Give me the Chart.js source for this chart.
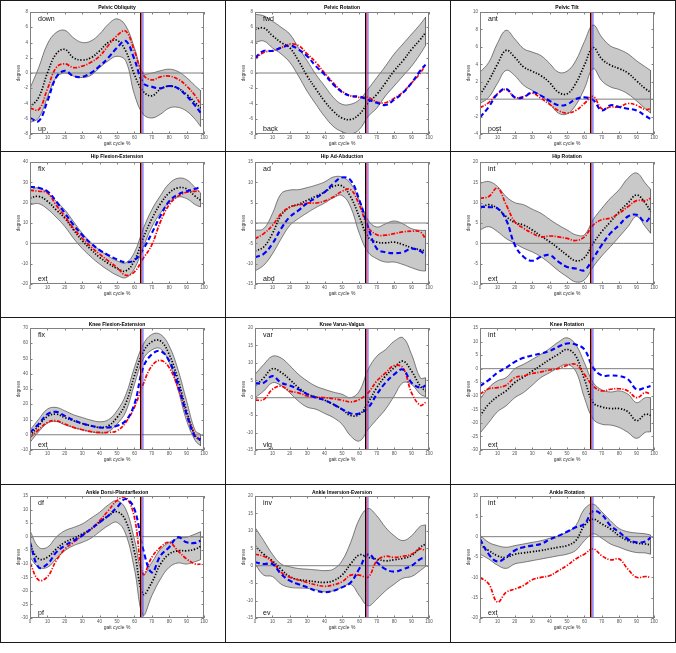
<!DOCTYPE html>
<html><head><meta charset="utf-8">
<script src="https://cdn.jsdelivr.net/npm/chart.js@4/dist/chart.umd.min.js"></script>
<style>
html,body{margin:0;padding:0;background:#fff;}
#wrap{position:relative;width:676px;height:653px;overflow:hidden;background:#fff;}
canvas{position:absolute;}
.bl{position:absolute;background:#1a1a1a;}
</style></head><body><div id="wrap"></div>
<script>
// ---------------- DATA ----------------
const gaitCycle = [0,5,10,15,20,25,30,35,40,45,50,55,60,65,70,75,80,85,90,95,98];
const eventLines = [63.5, 64.1, 64.9]; // black, red, blue foot-off markers

const panelTitles = ['Pelvic Obliquity','Pelvic Rotation','Pelvic Tilt','Hip Flexion-Extension','Hip Ad-Abduction','Hip Rotation','Knee Flexion-Extension','Knee Varus-Valgus','Knee Rotation','Ankle Dorsi-Plantarflexion','Ankle Inversion-Eversion','Ankle Rotation'];
const topLabels = ['down','fwd','ant','flx','ad','int','flx','var','int','df','inv','int'];
const bottomLabels = ['up','back','post','ext','abd','ext','ext','vlg','ext','pf','ev','ext'];
const yMin = [-8,-8,-4,-20,-15,-10,-10,-15,-30,-30,-15,-20];
const yMax = [8,8,10,40,15,20,70,20,15,15,20,10];
const yStep = [2,2,2,10,5,5,10,5,5,5,5,5];

const pelvicObliquityMean  = [-4.5,-3.2,0.0,2.5,3.1,2.0,1.7,2.0,2.9,4.0,4.3,2.9,-0.2,-2.4,-3.0,-2.1,-1.7,-2.0,-2.8,-3.9,-4.6];
const pelvicObliquityUpper = [-2.0,0.7,3.8,5.3,5.6,4.6,4.0,4.2,5.1,6.4,7.1,6.2,3.3,0.0,0.0,0.3,0.5,0.2,-0.6,-1.7,-2.3];
const pelvicObliquityLower = [-6.5,-5.9,-3.2,-0.6,0.0,-0.4,-0.6,-0.3,0.7,1.6,2.2,1.6,-2.8,-5.4,-5.9,-5.4,-4.6,-4.5,-5.0,-6.1,-7.0];
const pelvicObliquityRed   = [-4.6,-4.8,-2.1,0.7,1.2,0.7,0.9,1.4,2.2,3.6,4.9,5.5,2.9,-0.2,-0.9,-0.5,-0.4,-0.8,-1.7,-3.0,-4.1];
const pelvicObliquityBlue  = [-5.9,-6.3,-3.7,-0.6,0.3,-0.4,-0.5,0.0,0.9,2.0,3.3,4.2,1.8,-1.3,-1.8,-2.0,-1.7,-2.0,-3.0,-4.3,-5.2];

const pelvicRotationMean  = [5.7,5.9,4.9,4.0,3.3,1.6,-0.4,-2.1,-3.7,-5.0,-5.9,-6.1,-5.4,-3.9,-2.8,-1.3,0.3,1.6,3.1,4.4,5.3];
const pelvicRotationUpper = [7.7,7.5,6.8,6.0,5.1,3.3,1.6,-0.2,-1.7,-3.2,-4.1,-4.1,-3.5,-2.1,-0.6,0.9,2.5,3.8,5.1,6.4,7.3];
const pelvicRotationLower = [4.0,4.2,3.3,2.5,1.4,-0.4,-2.4,-4.1,-5.7,-7.0,-7.7,-8.0,-7.4,-5.7,-4.6,-3.0,-1.7,-0.4,0.9,2.5,3.6];
const pelvicRotationRed   = [1.8,2.7,2.9,3.3,3.8,3.6,2.5,1.4,0.0,-1.3,-2.4,-3.0,-3.2,-3.2,-3.8,-3.9,-3.3,-2.5,-1.3,0.0,1.1];
const pelvicRotationBlue  = [2.0,2.9,2.9,3.3,3.6,3.1,2.2,0.9,-0.2,-1.5,-2.5,-3.0,-3.1,-3.5,-3.9,-4.2,-3.5,-2.6,-1.3,0.3,1.1];

const pelvicTiltMean  = [0.5,2.1,4.0,5.6,4.8,3.7,3.2,2.7,1.9,0.8,0.6,1.8,3.9,5.9,4.6,3.9,3.5,3.0,2.1,1.2,0.8];
const pelvicTiltUpper = [3.1,4.2,6.4,7.9,6.9,5.8,5.4,5.0,4.1,3.1,3.2,4.4,6.6,8.5,7.1,6.1,5.7,5.2,4.4,3.7,3.3];
const pelvicTiltLower = [-0.5,0.2,1.8,3.3,2.7,1.6,1.0,0.4,-0.5,-1.6,-1.7,-0.7,1.2,3.5,2.1,1.4,1.1,0.6,-0.2,-1.1,-1.6];
const pelvicTiltRed   = [-1.0,-0.4,0.6,1.1,0.2,0.3,0.7,0.1,-0.6,-1.3,-1.6,-1.3,-0.5,0.3,-1.1,-0.9,-0.9,-0.5,-0.7,-1.2,-1.1];
const pelvicTiltBlue  = [-2.1,-0.9,0.6,1.2,0.2,0.2,0.8,0.4,-0.2,-0.7,-0.6,0.0,0.2,-0.1,-1.3,-0.7,-0.9,-1.1,-1.3,-1.9,-2.3];

const hipFlexMean  = [22.3,23.1,20.7,16.5,12.4,6.6,1.3,-3.0,-6.9,-9.9,-12.4,-13.6,-8.5,2.5,12.0,19.5,24.8,27.3,26.8,23.1,21.2];
const hipFlexUpper = [26.4,27.3,24.8,20.7,16.5,10.7,5.0,0.3,-3.3,-6.3,-8.6,-9.6,-4.5,7.0,16.5,23.5,29.4,32.0,31.3,27.3,24.8];
const hipFlexLower = [19.0,19.5,16.9,12.9,8.3,2.5,-2.5,-6.6,-10.2,-13.2,-15.7,-16.9,-12.5,-2.0,8.0,15.0,20.2,22.8,22.0,19.0,17.9];
const hipFlexRed   = [26.1,25.6,24.8,18.8,13.2,7.4,2.5,-1.7,-5.3,-8.6,-11.9,-15.7,-14.0,-7.5,-0.8,10.7,19.0,23.1,25.1,25.6,25.6];
const hipFlexBlue  = [27.8,27.3,25.6,20.7,14.9,9.1,4.1,0.0,-3.3,-5.8,-7.9,-9.3,-8.3,-3.0,5.0,13.6,20.7,24.0,25.6,26.8,27.8];

const hipAbdMean  = [-6.9,-5.9,-2.6,1.9,3.9,4.6,5.6,6.6,7.6,9.0,9.1,6.4,1.5,-3.5,-4.7,-4.9,-4.7,-5.3,-6.1,-6.6,-6.9];
const hipAbdUpper = [-1.8,-1.4,2.3,7.2,8.1,8.2,8.7,9.3,10.1,11.3,11.3,9.7,5.6,0.7,-1.0,-0.2,0.5,-0.2,-1.4,-1.8,-1.8];
const hipAbdLower = [-11.8,-10.4,-7.6,-3.9,-0.6,1.1,2.5,3.8,4.9,6.2,6.8,3.9,-2.6,-7.2,-8.8,-9.6,-9.6,-10.2,-11.0,-11.7,-11.8];
const hipAbdRed   = [-3.9,-2.6,-0.6,2.3,3.9,4.4,4.9,4.9,5.4,6.4,7.8,8.2,4.4,-1.0,-2.9,-3.0,-2.6,-2.2,-2.0,-2.2,-3.9];
const hipAbdBlue  = [-8.4,-7.6,-5.1,-1.4,1.5,3.1,4.9,6.2,7.6,9.7,11.2,10.5,5.6,-1.0,-6.3,-7.2,-7.4,-7.2,-6.3,-6.9,-8.0];

const hipRotMean  = [8.6,9.5,8.6,6.6,5.1,4.5,3.3,1.8,0.4,-1.2,-2.9,-4.3,-3.5,0.0,2.9,5.3,7.8,9.9,11.9,9.9,7.8];
const hipRotUpper = [14.8,15.2,14.0,11.5,10.0,9.5,8.4,7.4,5.9,4.5,3.3,2.1,2.1,5.8,8.6,11.1,13.2,16.0,17.3,14.8,13.3];
const hipRotLower = [3.3,4.1,2.9,1.2,0.0,-1.2,-2.1,-3.3,-4.9,-6.7,-8.2,-9.5,-9.0,-5.8,-3.1,-0.8,1.6,4.1,6.6,4.1,2.5];
const hipRotRed   = [11.1,11.5,13.6,9.5,5.3,3.7,2.5,1.6,1.8,1.6,1.2,0.7,1.6,4.5,5.8,6.2,7.4,9.0,10.5,10.5,11.1];
const hipRotBlue  = [9.0,8.9,8.6,5.8,-0.4,-3.3,-4.3,-3.3,-2.9,-4.5,-5.8,-6.2,-6.6,-3.7,-0.4,2.5,4.5,6.6,7.0,5.3,6.6];

const kneeFlexMean  = [-0.7,5.9,12.0,13.5,11.3,9.2,7.4,5.9,4.8,5.9,11.3,20.5,38.6,54.2,61.0,61.5,52.7,36.4,15.7,-0.7,-3.9];
const kneeFlexUpper = [3.0,10.2,16.8,17.9,15.7,13.1,11.3,9.6,8.5,9.8,15.7,26.0,44.0,59.0,65.8,65.8,58.2,42.9,22.2,2.6,0.4];
const kneeFlexLower = [-5.0,2.0,7.6,8.7,6.5,4.8,3.3,2.0,1.1,2.0,7.0,15.0,33.0,49.5,55.6,56.4,47.3,29.8,9.2,-3.9,-7.2];
const kneeFlexRed   = [-1.7,3.3,8.1,9.2,7.0,4.8,3.3,2.0,1.5,1.5,2.6,8.0,18.0,33.0,45.1,48.8,44.0,30.9,13.5,-0.7,-2.8];
const kneeFlexBlue  = [1.5,7.0,13.5,15.0,12.4,9.6,7.4,5.9,4.8,4.8,5.9,9.2,20.0,44.0,52.7,54.9,48.4,33.1,13.5,-1.7,-2.8];

const kneeVarMean  = [3.3,5.7,8.3,7.3,5.2,2.9,1.1,0.2,-0.7,-1.9,-3.3,-5.1,-4.8,-1.4,2.9,6.2,8.6,10.5,7.6,3.3,1.9];
const kneeVarUpper = [6.7,9.5,11.9,11.4,9.2,6.7,4.8,3.3,2.4,1.6,1.0,0.0,1.9,8.1,11.9,13.8,16.2,17.2,12.4,5.7,5.7];
const kneeVarLower = [0.0,1.9,4.3,3.5,1.4,-1.0,-2.7,-3.3,-4.5,-5.7,-7.6,-11.0,-12.4,-9.1,-6.2,-3.3,0.5,4.3,3.8,1.0,0.3];
const kneeVarRed   = [-0.7,-0.5,2.4,3.3,1.9,1.4,0.5,0.2,0.0,-0.3,-0.7,-1.2,-0.5,1.4,4.8,7.1,9.2,8.6,1.4,-2.2,-1.4];
const kneeVarBlue  = [4.1,4.3,6.2,4.3,3.5,2.4,1.0,0.0,-0.7,-1.9,-3.3,-4.5,-4.5,-2.9,1.0,4.3,6.7,8.1,4.3,2.9,3.5];

const kneeRotMean  = [-17.4,-13.1,-10.3,-8.2,-5.1,-3.1,-0.9,1.2,3.4,5.3,7.1,4.7,-3.9,-12.5,-14.1,-14.7,-14.7,-15.9,-19.2,-16.8,-17.2];
const kneeRotUpper = [-11.3,-7.0,-4.5,-3.3,0.0,1.6,3.4,5.3,7.4,9.8,11.4,8.9,2.2,-5.1,-7.8,-8.6,-8.2,-9.4,-12.5,-10.7,-10.7];
const kneeRotLower = [-23.8,-19.9,-15.9,-13.7,-10.7,-8.8,-6.1,-3.3,-1.5,0.4,1.6,-0.9,-10.7,-18.6,-20.5,-20.8,-21.7,-23.5,-25.7,-23.5,-23.3];
const kneeRotRed   = [-9.4,-7.4,-7.0,-6.1,-3.3,-2.7,-1.8,-1.2,-0.5,0.0,1.2,1.6,-2.1,-6.4,-8.2,-7.6,-7.4,-8.2,-10.7,-8.8,-9.4];
const kneeRotBlue  = [-6.4,-4.2,-1.5,0.4,2.5,4.0,4.9,5.6,6.5,8.1,9.3,8.9,7.1,0.4,-2.5,-2.5,-2.7,-3.9,-7.6,-7.0,-6.4];

const ankleDfMean  = [-3.3,-8.2,-7.6,-4.6,-2.1,-0.6,1.0,2.8,5.3,7.7,9.2,5.9,-5.5,-21.2,-16.9,-10.1,-6.4,-5.2,-5.2,-4.6,-3.6];
const ankleDfUpper = [2.2,-3.9,-3.9,-0.2,2.2,3.4,4.7,6.8,9.0,11.7,13.3,10.2,-0.9,-13.8,-9.5,-4.6,-2.1,-0.6,-0.2,1.0,1.8];
const ankleDfLower = [-7.6,-11.3,-11.3,-8.2,-5.2,-3.3,-2.1,-0.6,1.8,4.1,5.3,1.0,-11.9,-29.0,-21.8,-15.6,-11.3,-9.7,-10.1,-9.2,-8.5];
const ankleDfRed   = [-9.7,-16.0,-14.8,-8.9,-4.6,-2.1,0.4,2.8,5.9,9.6,13.3,14.5,7.1,-13.8,-7.6,-3.9,-2.1,-5.2,-8.2,-10.1,-10.1];
const ankleDfBlue  = [-2.1,-11.3,-10.1,-5.8,-3.3,-1.5,0.4,2.8,5.3,7.7,10.8,13.9,10.2,-4.6,-13.2,-7.0,-3.9,-0.2,-2.1,-2.3,-1.5];

const ankleInvMean  = [5.7,3.3,1.4,-1.0,-3.1,-4.0,-4.3,-4.6,-4.8,-4.3,-2.7,0.5,3.1,2.4,1.9,1.4,1.7,2.1,2.9,5.3,6.2];
const ankleInvUpper = [11.0,7.2,3.3,0.5,-0.3,-0.8,-1.0,-1.2,-1.4,-1.0,1.4,6.7,13.4,16.4,14.3,11.0,8.6,7.2,8.6,11.3,11.7];
const ankleInvLower = [0.5,-2.7,-3.1,-5.3,-6.2,-6.4,-6.5,-6.9,-7.5,-7.2,-6.2,-5.3,-8.6,-11.5,-9.6,-7.2,-5.3,-3.6,-3.1,-1.4,-0.2];
const ankleInvRed   = [3.3,2.7,1.1,-1.9,-3.3,-4.1,-4.8,-5.5,-5.9,-5.5,-4.6,-2.7,-2.7,-3.3,1.4,2.7,2.4,2.7,3.3,4.8,4.3];
const ankleInvBlue  = [1.0,0.5,0.5,-2.4,-4.3,-5.3,-6.2,-7.2,-7.6,-7.2,-6.2,-4.8,-0.8,3.3,1.0,-1.0,-1.7,-1.0,0.0,1.9,2.4];

const ankleRotMean  = [-2.0,-3.4,-4.7,-5.1,-4.3,-4.0,-3.7,-3.4,-3.0,-2.6,-2.2,-1.0,2.7,4.3,3.1,1.9,0.2,-1.0,-1.6,-1.8,-2.0];
const ankleRotUpper = [0.4,-1.4,-2.2,-2.6,-2.2,-1.8,-1.4,-1.0,-0.4,0.2,1.1,2.7,6.8,8.0,6.1,3.9,2.0,1.2,0.9,0.7,0.4];
const ankleRotLower = [-4.3,-5.5,-7.0,-7.8,-6.7,-6.3,-5.9,-5.5,-5.1,-4.7,-4.3,-3.4,-1.0,0.7,-0.4,-1.8,-2.6,-3.4,-3.9,-4.0,-4.3];
const ankleRotRed   = [-10.0,-11.6,-16.1,-13.7,-12.9,-12.0,-10.6,-10.0,-9.6,-8.4,-7.1,-5.5,-4.3,-3.0,-4.7,-5.7,-5.5,-8.0,-10.0,-9.8,-10.0];
const ankleRotBlue  = [-0.6,-4.3,-6.1,-5.1,-3.4,-2.6,-2.2,-1.8,-0.7,0.2,1.2,2.3,3.1,6.3,5.4,2.7,1.1,-0.6,-1.4,-1.2,-0.2];

const panelSeries = [
  [pelvicObliquityMean,pelvicObliquityUpper,pelvicObliquityLower,pelvicObliquityRed,pelvicObliquityBlue],
  [pelvicRotationMean,pelvicRotationUpper,pelvicRotationLower,pelvicRotationRed,pelvicRotationBlue],
  [pelvicTiltMean,pelvicTiltUpper,pelvicTiltLower,pelvicTiltRed,pelvicTiltBlue],
  [hipFlexMean,hipFlexUpper,hipFlexLower,hipFlexRed,hipFlexBlue],
  [hipAbdMean,hipAbdUpper,hipAbdLower,hipAbdRed,hipAbdBlue],
  [hipRotMean,hipRotUpper,hipRotLower,hipRotRed,hipRotBlue],
  [kneeFlexMean,kneeFlexUpper,kneeFlexLower,kneeFlexRed,kneeFlexBlue],
  [kneeVarMean,kneeVarUpper,kneeVarLower,kneeVarRed,kneeVarBlue],
  [kneeRotMean,kneeRotUpper,kneeRotLower,kneeRotRed,kneeRotBlue],
  [ankleDfMean,ankleDfUpper,ankleDfLower,ankleDfRed,ankleDfBlue],
  [ankleInvMean,ankleInvUpper,ankleInvLower,ankleInvRed,ankleInvBlue],
  [ankleRotMean,ankleRotUpper,ankleRotLower,ankleRotRed,ankleRotBlue]
];

// ---------------- LAYOUT ----------------
const wrap = document.getElementById('wrap');
const colX = [0,225,450];
const canvasTop = [0,150,316,484];
const titleGap = [4.7,5,3.5,3];
const FONT = '"Liberation Sans", Arial, Helvetica, sans-serif';

const decor = {
  id:'decor',
  afterDatasetsDraw(chart, args, o){
    const {ctx, chartArea:a, scales:{x, y}} = chart;
    ctx.save();
    ctx.strokeStyle = '#808080'; ctx.lineWidth = 1;
    ctx.strokeRect(a.left+0.5, a.top+0.5, a.right-a.left-1, a.bottom-a.top-1);
    ctx.beginPath();
    y.ticks.forEach(t=>{ const py = Math.round(y.getPixelForValue(t.value))+0.5;
      ctx.moveTo(a.left, py); ctx.lineTo(a.left+2.5, py);
      ctx.moveTo(a.right, py); ctx.lineTo(a.right-2.5, py); });
    x.ticks.forEach(t=>{ const px = Math.round(x.getPixelForValue(t.value))+0.5;
      ctx.moveTo(px, a.bottom); ctx.lineTo(px, a.bottom-2.5);
      ctx.moveTo(px, a.top); ctx.lineTo(px, a.top+2.5); });
    ctx.stroke();
    const cx = (a.left+a.right)/2;
    ctx.textAlign = 'center'; ctx.textBaseline = 'middle';
    ctx.fillStyle = '#000';
    ctx.font = 'bold 5px ' + FONT;
    ctx.fillText(o.title, cx, a.top - o.titleGap);
    ctx.fillStyle = '#333';
    ctx.font = '5px ' + FONT;
    ctx.fillText('gait cycle %', cx, a.bottom + 10);
    ctx.save();
    ctx.translate(a.left - 11.7, (a.top+a.bottom)/2);
    ctx.rotate(-Math.PI/2);
    ctx.font = '4.6px ' + FONT;
    ctx.fillText('degrees', 0, 0);
    ctx.restore();
    ctx.fillStyle = '#111';
    ctx.textAlign = 'left';
    ctx.font = '7px ' + FONT;
    ctx.fillText(o.topLabel, a.left + 8, a.top + 6.8);
    ctx.fillText(o.bottomLabel, a.left + 8, a.bottom - 5.2);
    ctx.restore();
  }
};

const pts = arr => gaitCycle.map((x,i)=>({x, y:arr[i]}));

panelTitles.forEach((title, i) => {
  const col = i % 3, row = Math.floor(i/3);
  const [mean, upper, lower, red, blue] = panelSeries[i];
  const cv = document.createElement('canvas');
  cv.width = 225; cv.height = 150;
  cv.style.left = colX[col] + 'px'; cv.style.top = canvasTop[row] + 'px';
  cv.style.width = '225px'; cv.style.height = '150px';
  wrap.appendChild(cv);
  const last = gaitCycle.length - 1;
  const base = {pointRadius:0, fill:false, tension:0.4};
  const datasets = [
    {...base, data:pts(upper), borderColor:'#4a4a4a', borderWidth:0.7, order:10},
    {...base, data:pts(lower), borderColor:'#4a4a4a', borderWidth:0.7, fill:'-1', backgroundColor:'#c9c9c9', order:10},
    {...base, data:[{x:gaitCycle[last],y:upper[last]},{x:gaitCycle[last],y:lower[last]}], borderColor:'#4a4a4a', borderWidth:0.7, tension:0, order:10},
    {...base, data:[{x:0,y:0},{x:100,y:0}], borderColor:'#7f7f7f', borderWidth:1, tension:0, order:9},
    {...base, data:pts(mean), borderColor:'#000000', borderWidth:1.7, borderDash:[1.3,1.7], order:4},
    {...base, data:pts(red), borderColor:'#ff0000', borderWidth:1.7, borderDash:[4,1.5,1.2,1.5], order:3},
    {...base, data:pts(blue), borderColor:'#0000ff', borderWidth:2.1, borderDash:[5,3], order:2},
    {...base, data:[{x:eventLines[0],y:yMin[i]},{x:eventLines[0],y:yMax[i]}], borderColor:'#000000', borderWidth:1, tension:0, order:1},
    {...base, data:[{x:eventLines[1],y:yMin[i]},{x:eventLines[1],y:yMax[i]}], borderColor:'#ff3030', borderWidth:0.9, tension:0, order:1},
    {...base, data:[{x:eventLines[2],y:yMin[i]},{x:eventLines[2],y:yMax[i]}], borderColor:'#3030ff', borderWidth:0.9, tension:0, order:1}
  ];
  new Chart(cv, {
    type:'line',
    data:{datasets},
    plugins:[decor],
    options:{
      responsive:false, animation:false, events:[], devicePixelRatio:1,
      layout:{padding:{left:0,right:21,top:12,bottom:0}},
      plugins:{legend:{display:false}, tooltip:{enabled:false}, title:{display:false},
        decor:{title, titleGap:titleGap[row], topLabel:topLabels[i], bottomLabel:bottomLabels[i]}},
      scales:{
        x:{type:'linear', min:0, max:100,
           afterFit:s=>{s.height=16;},
           grid:{display:false, drawTicks:false}, border:{display:false},
           ticks:{stepSize:10, padding:1.5, autoSkip:false, maxRotation:0, color:'#555', font:{size:4.5, family:FONT}}},
        y:{type:'linear', min:yMin[i], max:yMax[i],
           afterFit:s=>{s.width=30;},
           grid:{display:false, drawTicks:false}, border:{display:false},
           ticks:{stepSize:yStep[i], padding:2, autoSkip:false, color:'#555', font:{size:4.5, family:FONT}}}
      }
    }
  });
});

// panel borders
function line(x,y,w,h){ const d=document.createElement('div'); d.className='bl';
  d.style.left=x+'px'; d.style.top=y+'px'; d.style.width=w+'px'; d.style.height=h+'px'; wrap.appendChild(d); }
[0,151,317,484,642].forEach(y=>line(0,y,676,1));
[0,225,450,675].forEach(x=>line(x,0,1,643));
</script>
</body></html>
